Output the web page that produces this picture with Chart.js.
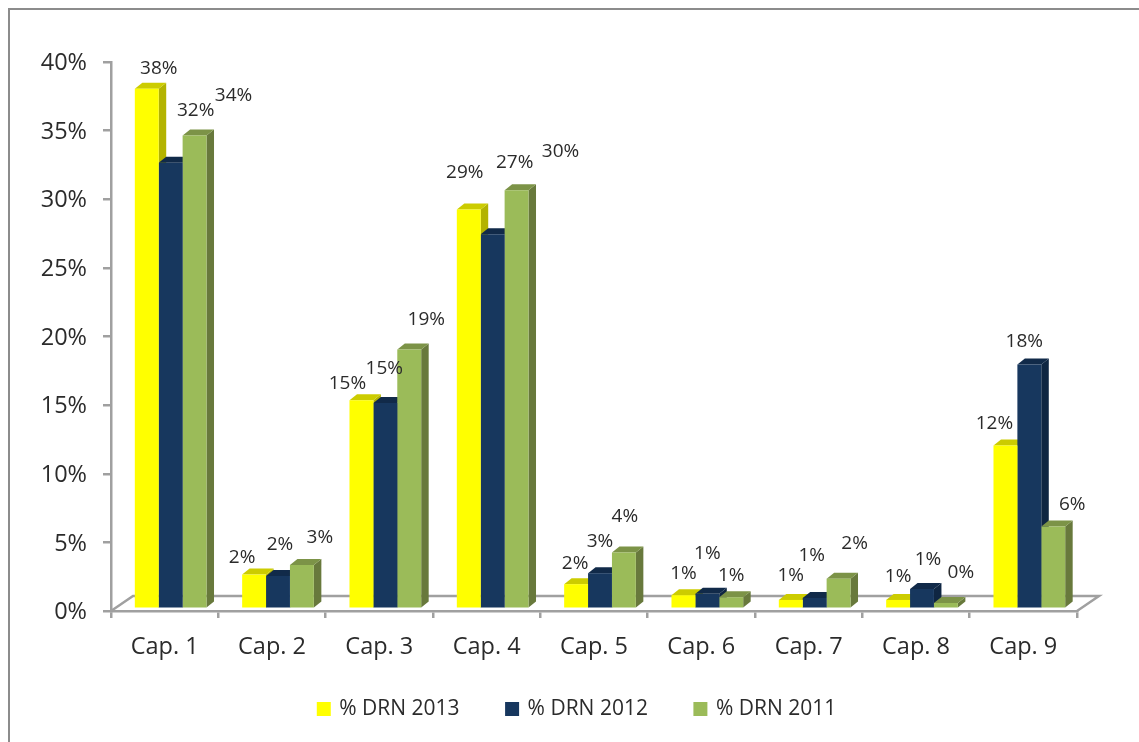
<!DOCTYPE html>
<html lang="es">
<head>
<meta charset="utf-8">
<title>% DRN por capítulo</title>
<script src="https://cdn.jsdelivr.net/npm/chart.js@4/dist/chart.umd.min.js"></script>
<style>
  html, body { margin: 0; background: #fff; }
  .frame { position: relative; width: 1139px; height: 742px; overflow: hidden; }
  .frame::before {
    content: "";
    position: absolute;
    left: 8px;
    top: 8px;
    right: -10px;
    bottom: -10px;
    border: 2px solid #8c8c8c;
  }
  canvas { position: absolute; left: 0; top: 0; }
</style>
</head>
<body>
<div class="frame"><canvas id="chart" width="1139" height="742"></canvas></div>
<script>
const categories = ["Cap. 1", "Cap. 2", "Cap. 3", "Cap. 4", "Cap. 5", "Cap. 6", "Cap. 7", "Cap. 8", "Cap. 9"];
const yTicks = [0, 5, 10, 15, 20, 25, 30, 35, 40];

const drn2013 = [37.8, 2.4, 15.1, 29.0, 1.7, 0.9, 0.55, 0.55, 11.8];
const drn2012 = [32.4, 2.3, 14.9, 27.2, 2.5, 1.0, 0.7, 1.35, 17.7];
const drn2011 = [34.4, 3.1, 18.8, 30.4, 4.0, 0.75, 2.1, 0.33, 5.9];

// excel dragged these labels around by hand, so nudge each one from its bar top
const nudge2013 = [[12, -21], [-12, -18], [-14, -18], [-4, -38], [-1, -22], [0, -23], [0, -25], [0, -24], [-11, -23]];
const nudge2012 = [[25, -53], [2, -32], [-1, -35], [22, -73], [0, -33], [0, -41], [-3, -43], [6, -30], [-5, -24]];
const nudge2011 = [[39, -41], [18, -28], [17, -31], [44, -40], [1, -37], [0, -23], [16, -36], [15, -31], [19, -23]];

const barDepth = { x: 7.5, y: 6 };
const floorDepth = { x: 22, y: 15 };
const barShift = 6;
const legendShift = { x: 39, y: -12.5 };
const axisColor = "#a0a0a0";
const textColor = "#2b2b2b";

const faces = [
  { front: "#ffff00", side: "#b3b300", top: "#cccc00" },
  { front: "#17375e", side: "#0f2642", top: "#112a49" },
  { front: "#9bbb59", side: "#68793c", top: "#7c9347" }
];
const nudges = [nudge2013, nudge2012, nudge2011];

function polygon(ctx, color, points) {
  ctx.fillStyle = color;
  ctx.beginPath();
  points.forEach(([x, y], i) => (i ? ctx.lineTo(x, y) : ctx.moveTo(x, y)));
  ctx.closePath();
  ctx.fill();
}

const fake3d = {
  id: "fake3d",
  afterLayout(chart) {
    const legend = chart.legend;
    legend.left += legendShift.x;
    legend.right += legendShift.x;
    legend.top += legendShift.y;
    legend.bottom += legendShift.y;
  },
  afterDatasetsUpdate(chart) {
    chart.getSortedVisibleDatasetMetas().forEach((meta) => {
      meta.data.forEach((bar) => { bar.x += barShift; });
    });
  },
  beforeDatasetsDraw(chart) {
    const { ctx, chartArea } = chart;
    const { left, right, bottom } = chartArea;
    ctx.save();
    ctx.strokeStyle = axisColor;
    ctx.lineWidth = 2.5;
    ctx.beginPath();
    ctx.moveTo(left, bottom);
    ctx.lineTo(left + floorDepth.x, bottom - floorDepth.y);
    ctx.lineTo(right + floorDepth.x, bottom - floorDepth.y);
    ctx.lineTo(right, bottom);
    ctx.stroke();
    ctx.restore();
    // sides and tops go down first, the library then paints every front over them
    chart.data.datasets.forEach((ds, d) => {
      const colors = faces[d];
      chart.getDatasetMeta(d).data.forEach((bar) => {
        const l = bar.x - bar.width / 2;
        const r = bar.x + bar.width / 2;
        polygon(ctx, colors.side, [[r, bar.y], [r + barDepth.x, bar.y - barDepth.y], [r + barDepth.x, bar.base - barDepth.y], [r, bar.base]]);
        polygon(ctx, colors.top, [[l, bar.y], [l + barDepth.x, bar.y - barDepth.y], [r + barDepth.x, bar.y - barDepth.y], [r, bar.y]]);
      });
    });
  },
  afterDatasetsDraw(chart) {
    const { ctx } = chart;
    ctx.save();
    ctx.font = "19px 'Open Sans'";
    ctx.fillStyle = textColor;
    ctx.textAlign = "center";
    ctx.textBaseline = "middle";
    chart.data.datasets.forEach((ds, d) => {
      chart.getDatasetMeta(d).data.forEach((bar, i) => {
        const [dx, dy] = nudges[d][i];
        ctx.fillText(Math.round(ds.data[i]) + "%", bar.x + dx, bar.y + dy + 1);
      });
    });
    ctx.restore();
  }
};

const barOpts = { barPercentage: 1, categoryPercentage: 0.668, borderWidth: 0, yAxisID: "bars" };

new Chart(document.getElementById("chart"), {
  type: "bar",
  data: {
    labels: categories,
    datasets: [
      { label: "% DRN 2013", data: drn2013, backgroundColor: faces[0].front, ...barOpts },
      { label: "% DRN 2012", data: drn2012, backgroundColor: faces[1].front, ...barOpts },
      { label: "% DRN 2011", data: drn2011, backgroundColor: faces[2].front, ...barOpts }
    ]
  },
  options: {
    responsive: false,
    animation: false,
    layout: { padding: { top: 62, right: 62 } },
    plugins: {
      tooltip: { enabled: false },
      legend: {
        position: "bottom",
        labels: {
          // small box plus a thick stroke keeps the text close to the square
          boxWidth: 10,
          boxHeight: 10,
          padding: 47.5,
          color: textColor,
          font: { family: "'Open Sans'", size: 21 },
          generateLabels(chart) {
            return Chart.defaults.plugins.legend.labels.generateLabels(chart).map((item) => ({
              ...item,
              lineWidth: 4,
              strokeStyle: item.fillStyle
            }));
          }
        }
      }
    },
    scales: {
      x: {
        border: { color: axisColor, width: 2.5 },
        grid: { drawOnChartArea: false, color: axisColor, lineWidth: 2.5, tickLength: 7 },
        ticks: { color: textColor, font: { family: "'Open Sans'", size: 23.5 }, padding: 15, maxRotation: 0 },
        afterFit(scale) { scale.height = 52.5; }
      },
      y: {
        min: 0,
        max: 40,
        afterBuildTicks(scale) { scale.ticks = yTicks.map((value) => ({ value })); },
        border: { color: axisColor, width: 2.5 },
        grid: { drawOnChartArea: false, color: axisColor, lineWidth: 2.5, tickLength: 8 },
        ticks: { color: textColor, font: { family: "'Open Sans'", size: 23.5 }, padding: 16, labelOffset: 1.5, callback: (v) => v + "%" },
        afterFit(scale) { scale.width = 111; }
      },
      // bars stand a little in front of the axis line, so they get their own zero
      bars: { display: false, min: -0.255, max: 39.75 }
    }
  },
  plugins: [fake3d]
});
</script>
</body>
</html>
